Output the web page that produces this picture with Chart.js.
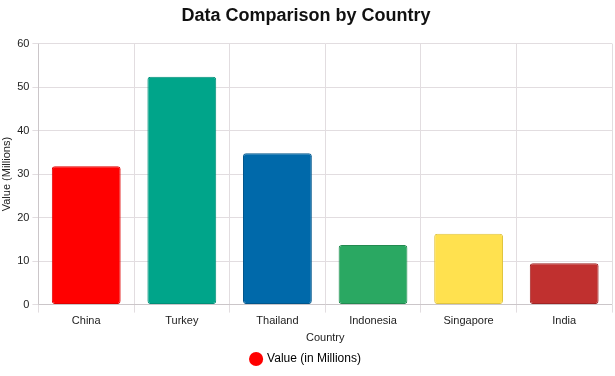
<!DOCTYPE html>
<html>
<head>
<meta charset="utf-8">
<script src="https://cdn.jsdelivr.net/npm/chart.js@4"></script>
<style>
  html, body { margin: 0; padding: 0; background: #fff; }
  #wrap { width: 615px; height: 376px; }
</style>
</head>
<body>
<div id="wrap"><canvas id="myChart"></canvas></div>
<script>
const countries = ['China', 'Turkey', 'Thailand', 'Indonesia', 'Singapore', 'India'];
const values = [31.8, 52.4, 34.8, 13.7, 16.3, 9.5];
const barColors = ['#ff0000', '#00a58a', '#0069aa', '#2aa862', '#ffe14f', '#c0302f'];
const borderColors = ['#e00000', '#008f78', '#00568c', '#228a50', '#e0c440', '#a02424'];

Chart.defaults.font.family = '"Liberation Sans", Arial, sans-serif';
Chart.defaults.color = '#222';

const ctx = document.getElementById('myChart').getContext('2d');
const chart = new Chart(ctx, {
  type: 'bar',
  data: {
    labels: countries,
    datasets: [{
      label: 'Value (in Millions)',
      data: values,
      backgroundColor: barColors,
      borderColor: borderColors,
      borderWidth: 1,
      borderRadius: 3,
      borderSkipped: false
    }]
  },
  options: {
    responsive: true,
    maintainAspectRatio: false,
    animation: false,
    layout: { padding: { left: 0, right: 3, top: 0, bottom: 1 } },
    plugins: {
      title: {
        display: true,
        text: 'Data Comparison by Country',
        font: { size: 18, weight: 'bold' },
        color: '#111',
        padding: { top: 5, bottom: 17 }
      },
      legend: {
        position: 'bottom',
        labels: {
          usePointStyle: true,
          pointStyle: 'circle',
          boxWidth: 10,
          boxHeight: 10,
          padding: 7,
          font: { size: 12 },
          color: '#222',
          generateLabels: (c) => [{
            text: 'Value (in Millions)',
            fillStyle: '#ff0000',
            strokeStyle: '#ff0000',
            lineWidth: 0,
            pointStyle: 'circle',
            datasetIndex: 0
          }]
        }
      }
    },
    scales: {
      x: {
        title: { display: true, text: 'Country', font: { size: 11 }, padding: { top: 2, bottom: 1 } },
        ticks: { font: { size: 11 }, padding: 2 },
        grid: { color: '#e2dde0', offset: true }
      },
      y: {
        min: 0,
        max: 60,
        title: { display: true, text: 'Value (Millions)', font: { size: 11 }, padding: { top: 0, bottom: 1 } },
        ticks: { stepSize: 10, font: { size: 11 }, padding: 3 },
        grid: { color: '#e2dde0', tickLength: 6 }
      }
    }
  }
});
</script>
</body>
</html>
